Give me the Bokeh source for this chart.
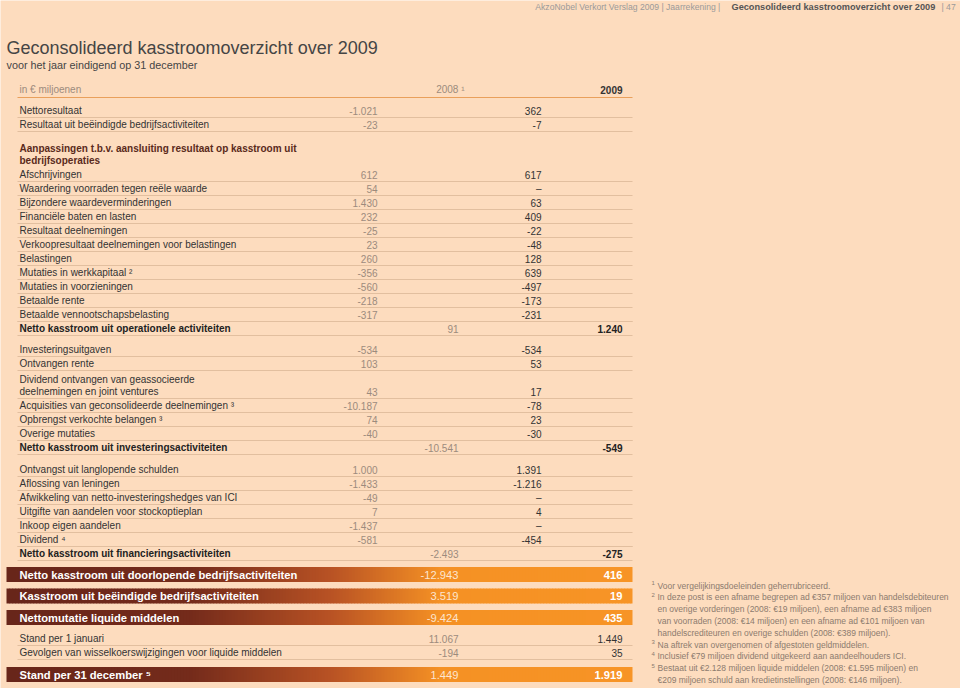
from bokeh.plotting import figure
from bokeh.models import ColumnDataSource, Range1d
from bokeh.embed import file_html
from bokeh.resources import INLINE
from bokeh.core.properties import value

# ---------------- data ----------------
running_head_left = "AkzoNobel Verkort Verslag 2009  |  Jaarrekening  |"
running_head_bold = "Geconsolideerd kasstroomoverzicht over 2009"
running_head_right = "|  47"

title = "Geconsolideerd kasstroomoverzicht over 2009"
subtitle = "voor het jaar eindigend op 31 december"
unit_label = "in € miljoenen"
year_prev = "2008 ¹"
year_curr = "2009"

result_labels = ["Nettoresultaat", "Resultaat uit beëindigde bedrijfsactiviteiten"]
result_2008 = ["-1.021", "-23"]
result_2009 = ["362", "-7"]

adjust_heading = ["Aanpassingen t.b.v. aansluiting resultaat op kasstroom uit", "bedrijfsoperaties"]
adjust_labels = ["Afschrijvingen", "Waardering voorraden tegen reële waarde",
                 "Bijzondere waardeverminderingen", "Financiële baten en lasten",
                 "Resultaat deelnemingen", "Verkoopresultaat deelnemingen voor belastingen",
                 "Belastingen", "Mutaties in werkkapitaal ²", "Mutaties in voorzieningen",
                 "Betaalde rente", "Betaalde vennootschapsbelasting"]
adjust_2008 = ["612", "54", "1.430", "232", "-25", "23", "260", "-356", "-560", "-218", "-317"]
adjust_2009 = ["617", "–", "63", "409", "-22", "-48", "128", "639", "-497", "-173", "-231"]
operating_total = ["Netto kasstroom uit operationele activiteiten", "91", "1.240"]

invest_labels = ["Investeringsuitgaven", "Ontvangen rente",
                 "Dividend ontvangen van geassocieerde|deelnemingen en joint ventures",
                 "Acquisities van geconsolideerde deelnemingen ³",
                 "Opbrengst verkochte belangen ³", "Overige mutaties"]
invest_2008 = ["-534", "103", "43", "-10.187", "74", "-40"]
invest_2009 = ["-534", "53", "17", "-78", "23", "-30"]
invest_total = ["Netto kasstroom uit investeringsactiviteiten", "-10.541", "-549"]

finance_labels = ["Ontvangst uit langlopende schulden", "Aflossing van leningen",
                  "Afwikkeling van netto-investeringshedges van ICI",
                  "Uitgifte van aandelen voor stockoptieplan", "Inkoop eigen aandelen",
                  "Dividend ⁴"]
finance_2008 = ["1.000", "-1.433", "-49", "7", "-1.437", "-581"]
finance_2009 = ["1.391", "-1.216", "–", "4", "–", "-454"]
finance_total = ["Netto kasstroom uit financieringsactiviteiten", "-2.493", "-275"]

band_labels = ["Netto kasstroom uit doorlopende bedrijfsactiviteiten",
               "Kasstroom uit beëindigde bedrijfsactiviteiten",
               "Nettomutatie liquide middelen"]
band_2008 = ["-12.943", "3.519", "-9.424"]
band_2009 = ["416", "19", "435"]

stand_labels = ["Stand per 1 januari", "Gevolgen van wisselkoerswijzigingen voor liquide middelen"]
stand_2008 = ["11.067", "-194"]
stand_2009 = ["1.449", "35"]

closing_band = ["Stand per 31 december ⁵", "1.449", "1.919"]

footnote_marks = ["1", "2", "3", "4", "5"]
footnote_lines = [
    ["Voor vergelijkingsdoeleinden geherrubriceerd."],
    ["In deze post is een afname begrepen ad €357 miljoen van handelsdebiteuren",
     "en overige vorderingen (2008: €19 miljoen), een afname ad €383 miljoen",
     "van voorraden (2008: €14 miljoen) en een afname ad €101 miljoen van",
     "handelscrediteuren en overige schulden (2008: €389 miljoen)."],
    ["Na aftrek van overgenomen of afgestoten geldmiddelen."],
    ["Inclusief €79 miljoen dividend uitgekeerd aan aandeelhouders ICI."],
    ["Bestaat uit €2.128 miljoen liquide middelen (2008: €1.595 miljoen) en",
     "€209 miljoen schuld aan kredietinstellingen (2008: €146 miljoen)."],
]

# ---------------- style / layout ----------------
BG = "#FDDCBE"
FONT = "Liberation Sans"
DARK = "#333333"
GREY = "#9C8B7D"
BROWN = "#5A2A1B"
RULE = "#E2BF9F"
ORANGE_RULE = "#E9A05C"

X_LABEL = 19
X_2008 = 377
X_2009 = 541
X_T2008 = 458
X_T2009 = 622
X_LEFT = 17
X_RIGHT = 632
BAND_LEFT = 6
ROW = 14

p = figure(width=960, height=688, output_backend="svg", toolbar_location=None,
           x_range=Range1d(0, 960), y_range=Range1d(688, 0),
           x_axis_type=None, y_axis_type=None, min_border=0)
p.background_fill_color = BG
p.border_fill_color = BG
p.outline_line_color = None
p.grid.visible = False


def txt(xs, ys, texts, color, size, style="normal", align="left"):
    src = ColumnDataSource(dict(x=list(xs), y=list(ys), t=list(texts)))
    p.text("x", "y", text="t", source=src, text_color=color, text_font_size=size,
           text_font_style=style, text_align=align, text_baseline="middle",
           text_font=value(FONT))


rule_y = []


def rule(y):
    rule_y.append(y)


# running head
txt([727], [6], [running_head_left], "#9A9A9A", "8.6px", align="right")
txt([731], [6], [running_head_bold], "#555555", "9.2px", "bold")
txt([941], [6], [running_head_right], "#9A9A9A", "8.6px")

# title
txt([6], [47], [title], "#454545", "18px")
txt([6], [64], [subtitle], "#454545", "10.8px")

# column header
txt([X_LABEL], [89], [unit_label], GREY, "10px")
txt([X_T2008 + 6], [89], [year_prev], GREY, "10px", align="right")
txt([X_T2009], [89], [year_curr], DARK, "10px", "bold", align="right")
p.segment(x0=[X_LEFT], x1=[X_RIGHT], y0=[97], y1=[97], line_color=ORANGE_RULE, line_width=1.2)


def detail_rows(labels, v08, v09, y0):
    ys_lab, labs, ys_val = [], [], []
    y = y0
    for lab in labels:
        parts = lab.split("|")
        if len(parts) == 2:
            labs += parts
            ys_lab += [y + 2, y + 14]
            y += 14
        else:
            labs.append(lab)
            ys_lab.append(y)
        ys_val.append(y)
        rule(y + 7)
        y += ROW
    txt([X_LABEL] * len(labs), ys_lab, labs, DARK, "10px")
    txt([X_2008] * len(v08), ys_val, v08, GREY, "10px", align="right")
    txt([X_2009] * len(v09), ys_val, v09, DARK, "10px", align="right")
    return y


def total_row(row, y):
    txt([X_LABEL], [y], [row[0]], "#222222", "10px", "bold")
    txt([X_T2008], [y], [row[1]], GREY, "10px", align="right")
    txt([X_T2009], [y], [row[2]], "#222222", "10px", "bold", align="right")
    rule(y + 7)
    rule(y - 7)


detail_rows(result_labels, result_2008, result_2009, 110)
txt([X_LABEL, X_LABEL], [148, 160], adjust_heading, BROWN, "10px", "bold")
y = detail_rows(adjust_labels, adjust_2008, adjust_2009, 174)
total_row(operating_total, y)
y = detail_rows(invest_labels, invest_2008, invest_2009, 349)
total_row(invest_total, y)
y = detail_rows(finance_labels, finance_2008, finance_2009, 469)
total_row(finance_total, y)

p.segment(x0=[X_LEFT] * len(rule_y), x1=[X_RIGHT] * len(rule_y), y0=rule_y, y1=rule_y,
          line_color=RULE, line_width=1)

# gradient bands
stops = [(BAND_LEFT, (104, 38, 26)), (190, (116, 43, 27)), (330, (184, 82, 36)),
         (440, (245, 145, 36)), (X_RIGHT, (247, 148, 38))]


def grad_color(x):
    for (xa, ca), (xb, cb) in zip(stops[:-1], stops[1:]):
        if xa <= x <= xb:
            f = (x - xa) / (xb - xa)
            c = [round(a + (b - a) * f) for a, b in zip(ca, cb)]
            return "#%02x%02x%02x" % tuple(c)
    return "#%02x%02x%02x" % stops[-1][1]


STEP = 3
lefts = list(range(BAND_LEFT, X_RIGHT, STEP))
rights = [min(l + STEP + 0.6, X_RIGHT) for l in lefts]
cols = [grad_color(l + STEP / 2) for l in lefts]


def band(row_label, v08, v09, yc):
    src = ColumnDataSource(dict(l=lefts, r=rights, t=[yc - 7.5] * len(lefts),
                                b=[yc + 7.5] * len(lefts), c=cols))
    p.quad(left="l", right="r", top="t", bottom="b", fill_color="c", line_color=None, source=src)
    txt([X_LABEL], [yc], [row_label], "#FFFFFF", "11.2px", "bold")
    txt([X_T2008], [yc], [v08], "#FDE5CF", "11.2px", align="right")
    txt([X_T2009], [yc], [v09], "#FFFFFF", "11.2px", "bold", align="right")


for lab, a, b, yc in zip(band_labels, band_2008, band_2009, [574, 595.5, 617]):
    band(lab, a, b, yc)

stand_y = [638, 652]
txt([X_LABEL] * 2, stand_y, stand_labels, DARK, "10px")
txt([X_T2008] * 2, stand_y, stand_2008, GREY, "10px", align="right")
txt([X_T2009] * 2, stand_y, stand_2009, DARK, "10px", align="right")
p.segment(x0=[X_LEFT] * 2, x1=[X_RIGHT] * 2, y0=[645, 659], y1=[645, 659], line_color=RULE, line_width=1)

band(closing_band[0], closing_band[1], closing_band[2], 674)

# footnotes
fx, fy, ft, mx, my = [], [], [], [], []
yy = 585
for mark, lines in zip(footnote_marks, footnote_lines):
    mx.append(651)
    my.append(yy - 2.5)
    for ln in lines:
        fx.append(657)
        fy.append(yy)
        ft.append(ln)
        yy += 11.8
txt(mx, my, footnote_marks, "#8C7B6E", "6px")
txt(fx, fy, ft, "#8C7B6E", "8.5px")

open("out.html", "w").write(file_html(p, INLINE))
